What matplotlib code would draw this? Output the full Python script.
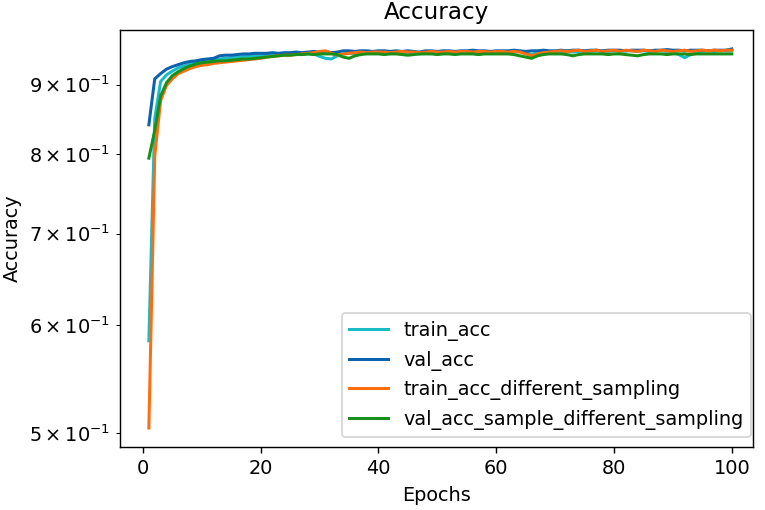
import numpy as np
import matplotlib
matplotlib.use('Agg')
import matplotlib.pyplot as plt

epochs = np.arange(1, 101)

train_acc = [
    0.584, 0.850, 0.905, 0.915, 0.921, 0.926, 0.929, 0.932, 0.934, 0.936,
    0.937, 0.939, 0.940, 0.941, 0.942, 0.943, 0.944, 0.944, 0.945, 0.945,
    0.946, 0.946, 0.947, 0.947, 0.947, 0.948, 0.947, 0.948, 0.948, 0.944,
    0.941, 0.940, 0.945, 0.948, 0.949, 0.949, 0.950, 0.949, 0.950, 0.950,
    0.950, 0.951, 0.951, 0.950, 0.951, 0.949, 0.948, 0.950, 0.951, 0.951,
    0.951, 0.951, 0.952, 0.951, 0.951, 0.952, 0.951, 0.952, 0.952, 0.951,
    0.952, 0.952, 0.951, 0.952, 0.950, 0.947, 0.950, 0.951, 0.952, 0.952,
    0.952, 0.952, 0.951, 0.952, 0.952, 0.952, 0.953, 0.952, 0.952, 0.953,
    0.952, 0.953, 0.953, 0.952, 0.953, 0.952, 0.953, 0.953, 0.952, 0.951,
    0.947, 0.942, 0.947, 0.951, 0.952, 0.953, 0.952, 0.953, 0.953, 0.953,
]

val_acc = [
    0.841, 0.909, 0.917, 0.924, 0.928, 0.931, 0.934, 0.936, 0.937, 0.939,
    0.940, 0.941, 0.945, 0.946, 0.946, 0.947, 0.948, 0.948, 0.949, 0.949,
    0.949, 0.950, 0.949, 0.950, 0.950, 0.951, 0.950, 0.951, 0.952, 0.951,
    0.952, 0.950, 0.951, 0.953, 0.953, 0.952, 0.953, 0.953, 0.952, 0.953,
    0.953, 0.952, 0.953, 0.952, 0.953, 0.952, 0.951, 0.953, 0.953, 0.952,
    0.953, 0.953, 0.952, 0.953, 0.953, 0.954, 0.953, 0.953, 0.952, 0.953,
    0.953, 0.953, 0.954, 0.953, 0.952, 0.953, 0.953, 0.954, 0.953, 0.953,
    0.954, 0.953, 0.954, 0.954, 0.953, 0.954, 0.954, 0.953, 0.954, 0.954,
    0.954, 0.953, 0.954, 0.954, 0.954, 0.953, 0.954, 0.954, 0.955, 0.954,
    0.954, 0.953, 0.954, 0.954, 0.954, 0.953, 0.954, 0.954, 0.954, 0.956,
]

train_acc_ds = [
    0.504, 0.798, 0.876, 0.899, 0.909, 0.917, 0.921, 0.925, 0.928, 0.930,
    0.931, 0.933, 0.934, 0.935, 0.936, 0.937, 0.938, 0.939, 0.940, 0.941,
    0.943, 0.944, 0.945, 0.946, 0.946, 0.947, 0.948, 0.949, 0.950, 0.952,
    0.953, 0.949, 0.946, 0.948, 0.949, 0.950, 0.951, 0.950, 0.951, 0.951,
    0.951, 0.950, 0.951, 0.952, 0.951, 0.951, 0.950, 0.951, 0.952, 0.951,
    0.951, 0.952, 0.951, 0.952, 0.952, 0.951, 0.952, 0.952, 0.951, 0.952,
    0.952, 0.951, 0.952, 0.951, 0.948, 0.945, 0.948, 0.950, 0.951, 0.952,
    0.953, 0.952, 0.953, 0.954, 0.952, 0.953, 0.954, 0.952, 0.953, 0.954,
    0.952, 0.954, 0.953, 0.952, 0.954, 0.953, 0.952, 0.954, 0.953, 0.952,
    0.953, 0.954, 0.952, 0.953, 0.954, 0.953, 0.954, 0.953, 0.954, 0.954,
]

val_acc_ds = [
    0.795, 0.833, 0.883, 0.903, 0.914, 0.920, 0.925, 0.929, 0.932, 0.934,
    0.935, 0.936, 0.937, 0.937, 0.938, 0.939, 0.940, 0.940, 0.941, 0.942,
    0.943, 0.944, 0.945, 0.946, 0.946, 0.947, 0.947, 0.948, 0.947, 0.948,
    0.948, 0.948, 0.947, 0.943, 0.941, 0.945, 0.947, 0.948, 0.948, 0.948,
    0.947, 0.948, 0.948, 0.947, 0.946, 0.947, 0.948, 0.948, 0.948, 0.947,
    0.948, 0.948, 0.947, 0.948, 0.948, 0.948, 0.947, 0.948, 0.948, 0.948,
    0.948, 0.948, 0.947, 0.945, 0.943, 0.941, 0.945, 0.947, 0.948, 0.948,
    0.948, 0.947, 0.945, 0.947, 0.948, 0.948, 0.948, 0.948, 0.947, 0.948,
    0.948, 0.947, 0.946, 0.945, 0.947, 0.948, 0.948, 0.948, 0.947, 0.948,
    0.948, 0.948, 0.947, 0.948, 0.948, 0.948, 0.948, 0.948, 0.948, 0.948,
]

plt.rcParams['font.size'] = 10.8
plt.rcParams['lines.linewidth'] = 1.7

fig = plt.figure(figsize=(765 / 128, 510 / 128), dpi=128)
ax = fig.add_axes([120 / 765, 63 / 510, 633 / 765, 417 / 510])

ax.plot(epochs, train_acc, color='#17bcc6', label='train_acc')
ax.plot(epochs, val_acc, color='#0b62ad', label='val_acc')
ax.plot(epochs, train_acc_ds, color='#ff6d10', label='train_acc_different_sampling')
ax.plot(epochs, val_acc_ds, color='#1a901a', label='val_acc_sample_different_sampling')

ax.set_yscale('log')
ax.set_xlim(-3.9, 103.6)
ax.set_title('Accuracy')
ax.set_xlabel('Epochs')
ax.set_ylabel('Accuracy')
ax.legend(loc='lower right', bbox_to_anchor=(1.012, 0.0))

fig.savefig('out.png', dpi=128)
